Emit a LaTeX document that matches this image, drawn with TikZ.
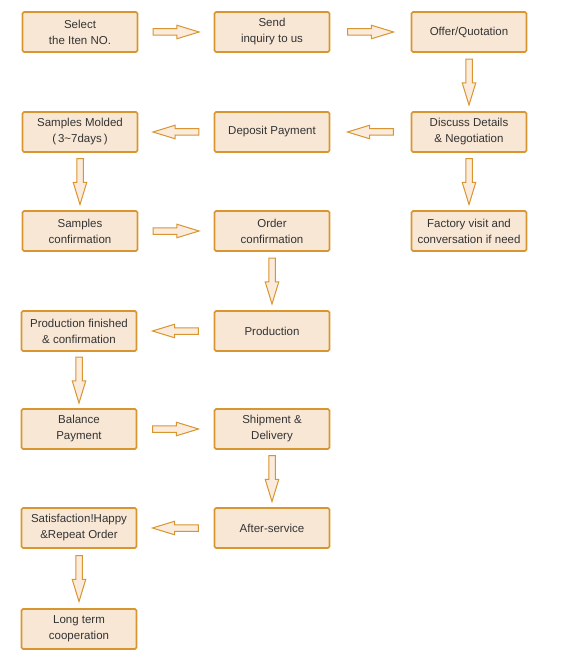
\documentclass[tikz,border=0pt]{standalone}
\usepackage{fontspec}
\setmainfont{Liberation Sans}
\usepackage{tikz}
\usetikzlibrary{shapes.arrows}

\definecolor{boxfill}{HTML}{F8E7D5}
\definecolor{boxline}{HTML}{D9952F}
\definecolor{arrfill}{HTML}{FAEBDD}
\definecolor{txtgray}{HTML}{333333}

\tikzset{
  stepbox/.style={draw=boxline, fill=boxfill, line width=1.6pt, rounded corners=1.5pt,
    minimum width=115pt, minimum height=40pt, inner sep=2pt, align=center,
    text=txtgray, font=\fontsize{11.5}{16}\selectfont},
  flow/.style={single arrow, draw=boxline, fill=arrfill, line width=1pt,
    minimum height=46pt, single arrow head extend=3.5pt, single arrow tip angle=34},
  flowright/.style={flow, inner xsep=0pt, inner ysep=2.75pt, shape border rotate=0, xshift=-5.25pt},
  flowleft/.style={flow, inner xsep=0pt, inner ysep=2.75pt, shape border rotate=180, xshift=5.25pt},
  flowdown/.style={flow, inner xsep=2.75pt, inner ysep=0pt, shape border rotate=270, yshift=5.25pt}
}

\begin{document}
\begin{tikzpicture}[x=1pt, y=1pt]
  \useasboundingbox (0,0) rectangle (570,-660);
  % row 1
  \node[stepbox] (select) at (80,-32) {Select\\the Iten NO.};
  \node[stepbox] (send) at (272,-32) {Send\\inquiry to us};
  \node[stepbox] (offer) at (469,-32) {Offer/Quotation};
  % row 2
  \node[stepbox] (molded) at (80,-132) {Samples Molded\\(\,3\textasciitilde 7days\,)};
  \node[stepbox] (deposit) at (272,-132) {Deposit Payment};
  \node[stepbox] (discuss) at (469,-132) {Discuss Details\\\& Negotiation};
  % row 3
  \node[stepbox] (sampconf) at (80,-231) {Samples\\confirmation};
  \node[stepbox] (ordconf) at (272,-231) {Order\\confirmation};
  \node[stepbox] (visit) at (469,-231) {Factory visit and\\conversation if need};
  % row 4
  \node[stepbox] (finished) at (79,-331) {Production finished\\\& confirmation};
  \node[stepbox] (prod) at (272,-331) {Production};
  % row 5
  \node[stepbox] (balance) at (79,-429) {Balance\\Payment};
  \node[stepbox] (ship) at (272,-429) {Shipment \&\\Delivery};
  % row 6
  \node[stepbox] (happy) at (79,-528) {Satisfaction!Happy\\\&Repeat Order};
  \node[stepbox] (after) at (272,-528) {After-service};
  % row 7
  \node[stepbox] (coop) at (79,-629) {Long term\\cooperation};

  % block arrows
  \path (select) -- node[flowright] {} (send);
  \path (send) -- node[flowright] {} (offer);
  \path (offer) -- node[flowdown] {} (discuss);
  \path (discuss) -- node[flowleft] {} (deposit);
  \path (deposit) -- node[flowleft] {} (molded);
  \path (discuss) -- node[flowdown] {} (visit);
  \path (molded) -- node[flowdown] {} (sampconf);
  \path (sampconf) -- node[flowright] {} (ordconf);
  \path (ordconf) -- node[flowdown] {} (prod);
  \path (prod) -- node[flowleft] {} (finished);
  \path (finished) -- node[flowdown] {} (balance);
  \path (balance) -- node[flowright] {} (ship);
  \path (ship) -- node[flowdown] {} (after);
  \path (after) -- node[flowleft] {} (happy);
  \path (happy) -- node[flowdown] {} (coop);
\end{tikzpicture}
\end{document}
